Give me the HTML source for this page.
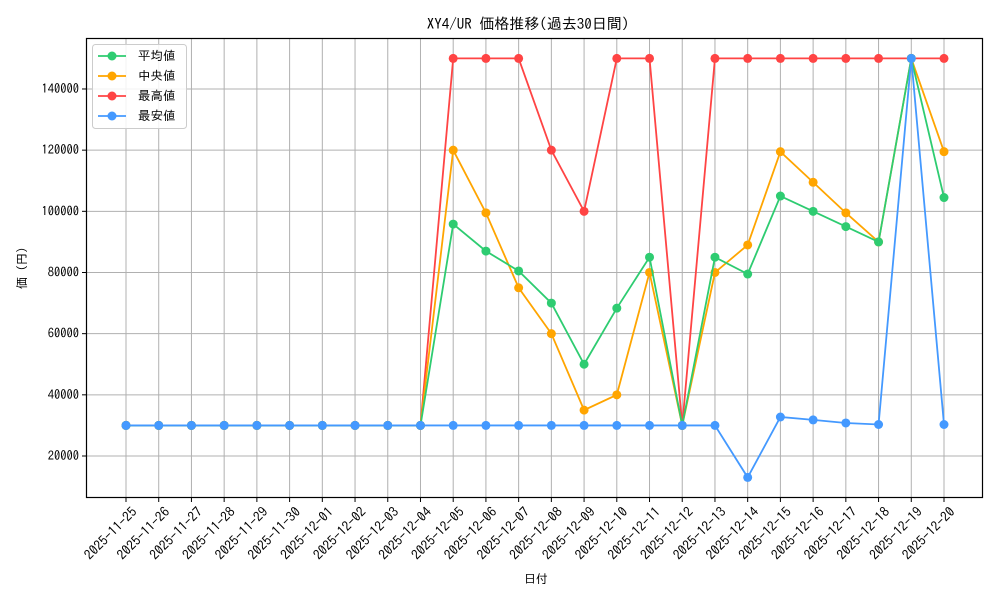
<!DOCTYPE html>
<html><head><meta charset="utf-8"><style>
body{margin:0;background:#fff}
svg{font-family:"IPAGothic","Liberation Sans",sans-serif}
</style></head><body>
<svg id="s" width="1000" height="600" xmlns="http://www.w3.org/2000/svg">
<rect width="1000" height="600" fill="#fff"/>
<g id="grid"></g>
<g id="series"></g>
<rect x="86.5" y="38.5" width="896" height="459" fill="none" stroke="#000" stroke-width="1.2"/>
<g id="ticks" font-size="12" fill="#000"></g>
<text x="528" y="29" font-size="15" text-anchor="middle">XY4/UR 価格推移(過去30日間)</text>
<text x="536" y="583" font-size="12" text-anchor="middle">日付</text>
<text transform="translate(26,268) rotate(-90)" font-size="12" text-anchor="middle">価 (円)</text>
<g>
<rect x="92.5" y="44.5" width="94" height="84" rx="3" fill="#fff" fill-opacity="0.85" stroke="#ccc"/>
<line x1="98" y1="56" x2="126" y2="56" stroke="#2ecc71" stroke-width="1.8"/><circle cx="112" cy="56" r="4.5" fill="#2ecc71"/>
<text x="138" y="60" font-size="12.5">平均値</text>
<line x1="98" y1="76" x2="126" y2="76" stroke="#ffa500" stroke-width="1.8"/><circle cx="112" cy="76" r="4.5" fill="#ffa500"/>
<text x="138" y="80" font-size="12.5">中央値</text>
<line x1="98" y1="96" x2="126" y2="96" stroke="#ff4444" stroke-width="1.8"/><circle cx="112" cy="96" r="4.5" fill="#ff4444"/>
<text x="138" y="100" font-size="12.5">最高値</text>
<line x1="98" y1="116" x2="126" y2="116" stroke="#4499ff" stroke-width="1.8"/><circle cx="112" cy="116" r="4.5" fill="#4499ff"/>
<text x="138" y="120" font-size="12.5">最安値</text>
</g>
</svg>
<script>
const NS="http://www.w3.org/2000/svg";
function el(p,t,a,txt){const e=document.createElementNS(NS,t);for(const k in a)e.setAttribute(k,a[k]);if(txt!=null)e.textContent=txt;p.appendChild(e);return e;}
const X=i=>126+i*32.72, Y=v=>456-(v-20000)*61.17/20000;
const grid=document.getElementById('grid'),tk=document.getElementById('ticks'),sr=document.getElementById('series');
const dates=[];
for(let d=25;d<=30;d++)dates.push('2025-11-'+d);
for(let d=1;d<=20;d++)dates.push('2025-12-'+String(d).padStart(2,'0'));
dates.forEach((d,i)=>{const x=X(i);
el(grid,'line',{x1:x,y1:38.5,x2:x,y2:497.5,stroke:'#b0b0b0','stroke-width':1});
el(tk,'line',{x1:x,y1:497.5,x2:x,y2:502,stroke:'#000'});
el(tk,'text',{transform:`translate(${x+5},${506}) rotate(-45)`,'text-anchor':'end','dominant-baseline':'hanging','font-size':13.5},d);});
for(let v=20000;v<=140000;v+=20000){const y=Y(v);
el(grid,'line',{x1:86.5,y1:y,x2:982.5,y2:y,stroke:'#b0b0b0','stroke-width':1});
el(tk,'line',{x1:82,y1:y,x2:86.5,y2:y,stroke:'#000'});
el(tk,'text',{x:79,y:y+4,'text-anchor':'end','font-size':12.5},v);}
const base=Array(10).fill(30000);
const S=[
['#ff4444',base.concat([150000,150000,150000,120000,100000,150000,150000,30000,150000,150000,150000,150000,150000,150000,150000,150000])],
['#ffa500',base.concat([120000,99500,75000,60000,35000,40000,80000,30000,80000,89000,119500,109500,99500,90000,150000,119500])],
['#2ecc71',base.concat([95833,87000,80500,70000,50000,68333,85000,30000,85000,79500,105000,100000,95000,90000,150000,104500])],
['#4499ff',base.concat([30000,30000,30000,30000,30000,30000,30000,30000,30000,13000,32750,31800,30800,30300,150000,30300])]
];
S.forEach(([c,d])=>{
el(sr,'polyline',{points:d.map((v,i)=>X(i)+','+Y(v)).join(' '),fill:'none',stroke:c,'stroke-width':1.8});
d.forEach((v,i)=>el(sr,'circle',{cx:X(i),cy:Y(v),r:4.5,fill:c}));});
</script>
</body></html>
